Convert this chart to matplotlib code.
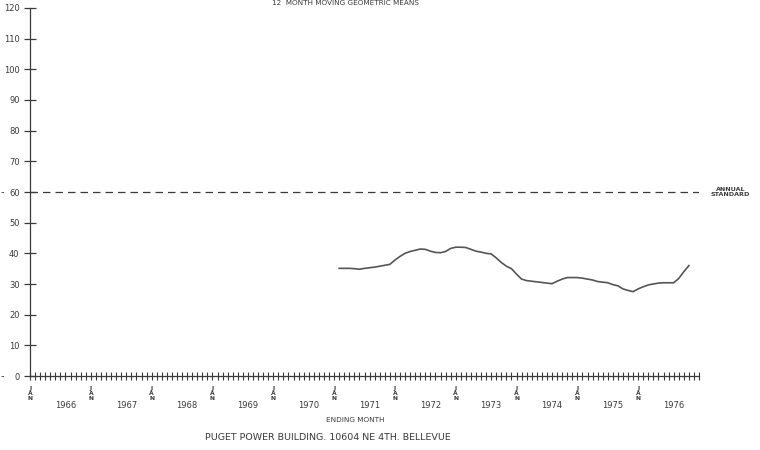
import matplotlib.pyplot as plt
import matplotlib.transforms as mtransforms

# months counted from Jan 1966 (0 = Jan 1966)
start_month = 61  # Feb 1971
geo_mean = [35.1, 35.1, 35.1, 35.0, 34.8, 35.1, 35.3, 35.5, 35.8, 36.1,
            36.4, 37.8, 39.0, 40.0, 40.6, 41.0, 41.4, 41.3, 40.7, 40.3,
            40.2, 40.6, 41.6, 42.0, 42.0, 41.9, 41.3, 40.7, 40.4, 40.0,
            39.8, 38.5, 37.0, 35.8, 35.0, 33.2, 31.6, 31.1, 30.9, 30.7,
            30.5, 30.3, 30.1, 30.9, 31.6, 32.1, 32.1, 32.1, 31.9, 31.6,
            31.3, 30.8, 30.6, 30.4, 29.8, 29.4, 28.4, 27.9, 27.5, 28.4,
            29.1, 29.7, 30.0, 30.3, 30.4, 30.4, 30.4, 31.8, 34.0, 36.0]
months = list(range(start_month, start_month + len(geo_mean)))

years = list(range(1966, 1977))
annual_standard = 60
y_ticks = list(range(0, 121, 10))

ink = '#3a3a3a'
plt.rcParams['font.family'] = 'DejaVu Sans'

fig = plt.figure(figsize=(7.6, 4.5), dpi=100)
ax = fig.add_axes([30 / 760, 74 / 450, 669 / 760, 368 / 450])
ax.set_xlim(0, 132)
ax.set_ylim(0, 120)

ax.plot(months, geo_mean, color='#555555', lw=1.2)

# annual standard line
ax.axhline(annual_standard, xmin=0.0, xmax=1.0, color=ink, lw=0.9,
           dashes=(6, 4))
ax.text(1.047, annual_standard, 'ANNUAL\nSTANDARD', transform=ax.get_yaxis_transform(),
        fontsize=4.6, color=ink, ha='center', va='center', linespacing=1.0,
        fontweight='bold')

for s in ['top', 'right']:
    ax.spines[s].set_visible(False)
for s in ['left', 'bottom']:
    ax.spines[s].set_color(ink)
    ax.spines[s].set_linewidth(0.9)

ax.set_yticks(y_ticks)
ax.set_yticklabels([str(v) for v in y_ticks])
ax.tick_params(axis='y', direction='inout', length=9, width=0.9, color=ink,
               labelsize=6, labelcolor=ink, pad=3)

jan_ticks = [12 * i for i in range(len(years))]
ax.set_xticks(jan_ticks)
ax.set_xticklabels(['J\nA\nN'] * len(jan_ticks))
ax.set_xticks(range(0, 133), minor=True)
ax.tick_params(axis='x', which='both', direction='inout', length=6, width=0.8,
               color=ink, labelsize=4.3, labelcolor=ink, pad=4)
for lab in ax.get_xticklabels():
    lab.set_linespacing(1.0)
    lab.set_fontweight('bold')

# year names centred under each year's span
trans = mtransforms.blended_transform_factory(ax.transData, ax.transAxes)
for i, yr in enumerate(years):
    ax.text(12 * i + 7, -0.08, str(yr), transform=trans, fontsize=6,
            color=ink, ha='center', va='center')

# small marks at the far left for 0 and 60
for v in [0, annual_standard]:
    fig.text(1 / 760, ax.transData.transform((0, v))[1] / 450, '-',
             fontsize=7, color=ink, va='center', ha='left')

fig.text(355 / 760, 1 - 420 / 450, 'ENDING MONTH', fontsize=5.2, color=ink,
         ha='center', va='center')
fig.text(328 / 760, 1 - 437 / 450, 'PUGET POWER BUILDING. 10604 NE 4TH. BELLEVUE',
         fontsize=6.8, color=ink, ha='center', va='center')
fig.text(345 / 760, 1 - 3 / 450, '12  MONTH MOVING GEOMETRIC MEANS', fontsize=5.2,
         color=ink, ha='center', va='center')

fig.savefig('out.png', dpi=100)
